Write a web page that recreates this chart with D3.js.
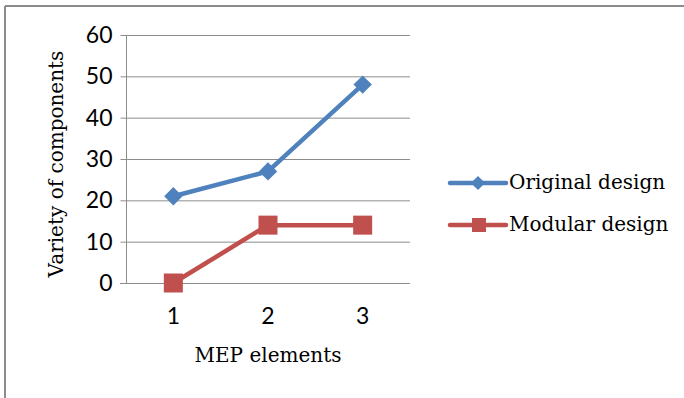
<!DOCTYPE html>
<html><head><meta charset="utf-8">
<script src="https://cdn.jsdelivr.net/npm/d3@7"></script>
<style>html,body{margin:0;padding:0;background:#fff;}svg{display:block;}</style>
</head><body>
<svg id="c" width="684" height="398"></svg>
<script>
const categories = ["1", "2", "3"];
const originalDesign = [21, 27, 48];
const modularDesign = [0, 14, 14];
const yTicks = [0, 10, 20, 30, 40, 50, 60];
const seriesNames = ["Original design", "Modular design"];
const colors = ["#4F81BD", "#C0504D"];

(function () {
const svg = d3.select("#c");
const serif = "'DejaVu Serif', serif";
const sans = "Lato, 'Open Sans', sans-serif";

// outer border (top & left visible)
svg.append("line").attr("x1", 5).attr("x2", 684).attr("y1", 6).attr("y2", 6).attr("stroke", "#8c8c8c").attr("stroke-width", 2);
svg.append("line").attr("x1", 5).attr("x2", 5).attr("y1", 6).attr("y2", 398).attr("stroke", "#8c8c8c").attr("stroke-width", 2);

const pl = 126, pr = 410, pt = 35, pb = 283;
const x = d3.scaleBand().domain(categories).range([pl, pr]);
const y = d3.scaleLinear().domain([0, 60]).range([pb, pt]);

// gridlines
svg.append("g").selectAll("line").data(yTicks.filter(d => d > 0)).join("line")
  .attr("x1", pl).attr("x2", pr).attr("y1", d => y(d) + 0.5).attr("y2", d => y(d) + 0.5)
  .attr("stroke", "#8c8c8c").attr("stroke-width", 1);

// y axis
const yAxis = svg.append("g").attr("transform", `translate(${pl + 0.5},0)`)
  .call(d3.axisLeft(y).tickValues(yTicks).tickSize(6).tickPadding(8));
yAxis.select(".domain").attr("stroke", "#8c8c8c").attr("d", `M0,${pt}V${pb}`);
yAxis.selectAll(".tick line").attr("stroke", "#8c8c8c");
yAxis.selectAll(".tick text").attr("font-family", sans).attr("font-size", 23).attr("fill", "#000");

// x axis
const xAxis = svg.append("g").attr("transform", `translate(0,${pb + 0.5})`)
  .call(d3.axisBottom(x).tickSize(0).tickPadding(24));
xAxis.select(".domain").attr("stroke", "#8c8c8c").attr("d", `M${pl - 6},0H${pr}`);
xAxis.selectAll(".tick text").attr("font-family", sans).attr("font-size", 23).attr("fill", "#000");

// axis titles
svg.append("text").attr("transform", `translate(57,${(pt + pb) / 2 + 5}) rotate(-90)`)
  .attr("text-anchor", "middle").attr("dominant-baseline", "middle")
  .attr("font-family", serif).attr("font-size", 20).text("Variety of components");
svg.append("text").attr("x", (pl + pr) / 2).attr("y", 362).attr("text-anchor", "middle")
  .attr("font-family", serif).attr("font-size", 20).text("MEP elements");

const cx = d => x(d) + x.bandwidth() / 2;
const line = d3.line().x(d => cx(d[0])).y(d => y(d[1]));
const series = [originalDesign, modularDesign];

series.forEach((vals, i) => {
  const pts = categories.map((c, j) => [c, vals[j]]);
  svg.append("path").attr("d", line(pts)).attr("fill", "none").attr("stroke", colors[i])
    .attr("stroke-width", 4.5).attr("stroke-linejoin", "round");
  const g = svg.append("g");
  if (i === 0) {
    g.selectAll("rect").data(pts).join("rect")
      .attr("x", -6.5).attr("y", -6.5).attr("width", 13).attr("height", 13)
      .attr("transform", d => `translate(${cx(d[0])},${y(d[1])}) rotate(45)`)
      .attr("fill", colors[i]);
  } else {
    g.selectAll("rect").data(pts).join("rect")
      .attr("x", d => cx(d[0]) - 9.5).attr("y", d => y(d[1]) - 9.5).attr("width", 19).attr("height", 19)
      .attr("fill", colors[i]);
  }
});

// legend
const legY = [183, 225];
seriesNames.forEach((name, i) => {
  const g = svg.append("g").attr("transform", `translate(0,${legY[i]})`);
  g.append("line").attr("x1", 450).attr("x2", 506).attr("y1", 0).attr("y2", 0)
    .attr("stroke", colors[i]).attr("stroke-width", 4.5).attr("stroke-linecap", "round");
  if (i === 0) {
    g.append("rect").attr("x", -5).attr("y", -5).attr("width", 10).attr("height", 10)
      .attr("transform", "translate(478,0) rotate(45)").attr("fill", colors[i]);
  } else {
    g.append("rect").attr("x", 472).attr("y", -7).attr("width", 14).attr("height", 14).attr("fill", colors[i]);
  }
  g.append("text").attr("x", 509).attr("y", 0).attr("dominant-baseline", "middle")
    .attr("font-family", serif).attr("font-size", 20).text(name);
});
})();
</script>
</body></html>
